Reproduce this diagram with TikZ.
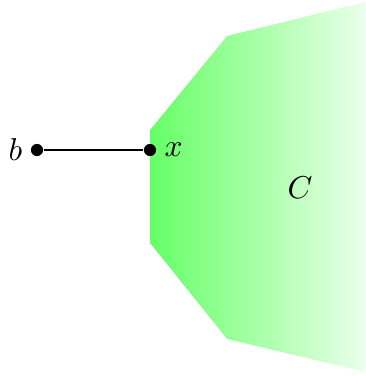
\documentclass[tikz,border=0pt]{standalone}
\usepackage{amsmath}
\usepackage{tikz}
\usetikzlibrary{positioning}
\tikzset{
  pt/.style={circle, fill=black, inner sep=0pt, minimum size=0.135cm},
  setC/.style={left color=green!60, right color=green!8, draw=none},
  seg/.style={thick, color=black}
}
\begin{document}
\begin{tikzpicture}[x=1cm/90, y=-1cm/90]
  \useasboundingbox (0,0) rectangle (365,376);
  % convex set
  \shade[setC] (150,130) -- (227,36) -- (365,2) -- (365,372)
    -- (227,339) -- (150,243) -- cycle;
  \node (lblC) at (300,188) {$C$};

  \node[pt, label={[xshift=1pt]left:$b$}] (b) at (37,150) {};
  \node[pt, label={[xshift=-1pt]right:$x$}] (x) at (150,150) {};
  \draw[seg] (b) -- (x);
\end{tikzpicture}
\end{document}
